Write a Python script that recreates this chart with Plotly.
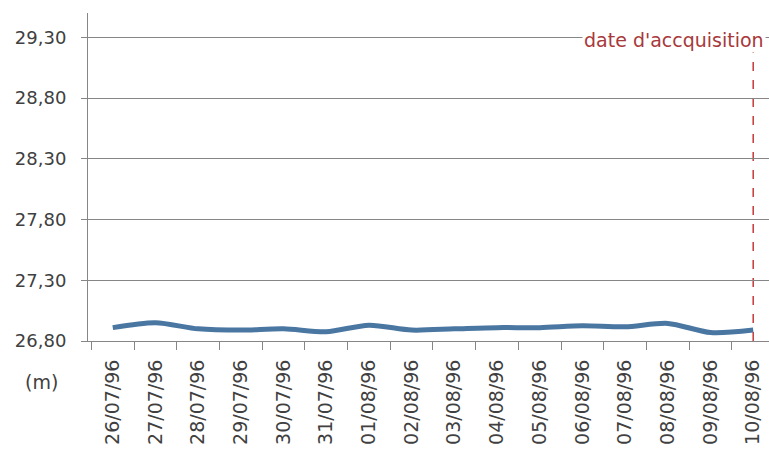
import plotly.graph_objects as go

dates = ["26/07/96", "27/07/96", "28/07/96", "29/07/96", "30/07/96", "31/07/96",
         "01/08/96", "02/08/96", "03/08/96", "04/08/96", "05/08/96", "06/08/96",
         "07/08/96", "08/08/96", "09/08/96", "10/08/96"]
levels = [26.91, 26.95, 26.90, 26.89, 26.90, 26.876, 26.93, 26.89,
          26.90, 26.91, 26.91, 26.925, 26.917, 26.945, 26.87, 26.89]
ytick_vals = [26.80, 27.30, 27.80, 28.30, 28.80, 29.30]
ytick_text = ["26,80", "27,30", "27,80", "28,30", "28,80", "29,30"]
acq_date = "10/08/96"
acq_label = "date d'accquisition"
unit_label = "(m)"

grid = "#868686"
font = "DejaVu Sans"
fs = 19

fig = go.Figure()
fig.add_trace(go.Scatter(
    x=dates, y=levels, mode="lines",
    line=dict(color="#4A76A2", width=5, shape="spline", smoothing=0.8),
    hoverinfo="x+y", showlegend=False,
))

fig.add_shape(type="line", xref="x", yref="y",
              x0=acq_date, x1=acq_date, y0=26.80, y1=29.29,
              line=dict(color="#C8383A", width=1.5, dash="dash"), layer="below")

fig.add_annotation(xref="paper", yref="paper", x=0.995, y=0.918,
                   xanchor="right", yanchor="middle", text=acq_label,
                   showarrow=False, bgcolor="white", borderpad=1,
                   font=dict(family=font, size=fs, color="#A8383A"))

fig.add_annotation(xref="paper", yref="paper", x=-0.068, y=-0.125,
                   xanchor="center", yanchor="middle", text=unit_label,
                   showarrow=False,
                   font=dict(family=font, size=fs, color="#404040"))

fig.update_layout(
    width=769, height=452,
    margin=dict(l=88, r=0, t=13, b=111),
    paper_bgcolor="white", plot_bgcolor="white",
    font=dict(family=font, size=fs, color="#404040"),
    xaxis=dict(type="category", range=[-0.58, 15.37], tickson="boundaries",
               ticks="outside", ticklen=8, tickcolor=grid, tickangle=-90,
               showline=True, linecolor=grid, linewidth=1, showgrid=False,
               ticklabelstandoff=10,
               tickfont=dict(family=font, size=fs, color="#404040")),
    yaxis=dict(range=[26.80, 29.50], tickvals=ytick_vals, ticktext=ytick_text,
               ticks="outside", ticklen=6, tickcolor=grid,
               showline=True, linecolor=grid, linewidth=1,
               showgrid=True, gridcolor=grid, gridwidth=1, zeroline=False,
               ticklabelstandoff=11,
               tickfont=dict(family=font, size=18, color="#404040")),
)

fig.write_html("out.html", config={"displayModeBar": False},
               post_script="document.body.style.margin='0';document.body.style.overflow='hidden';")
